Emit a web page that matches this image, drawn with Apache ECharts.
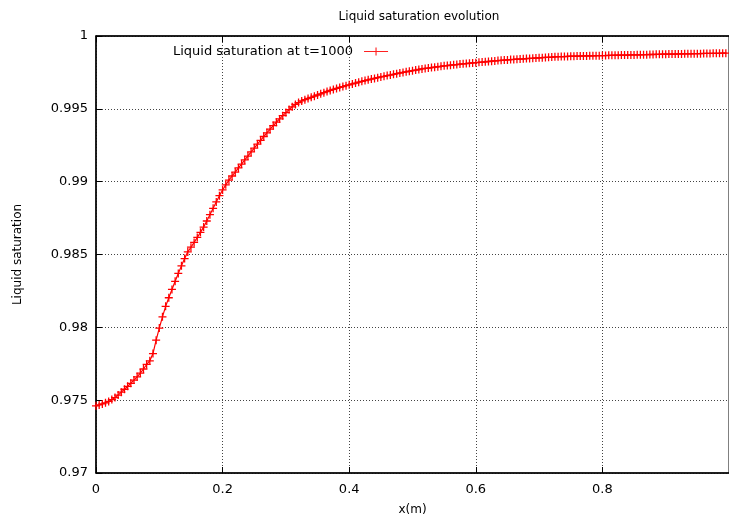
<!DOCTYPE html>
<html>
<head>
<meta charset="utf-8">
<script src="https://cdn.jsdelivr.net/npm/echarts@6/dist/echarts.min.js"></script>
<style>html,body{margin:0;padding:0;background:#fff}#c{width:729px;height:521px}</style>
</head>
<body>
<div id="c"></div>
<script>
var titleText = 'Liquid saturation evolution';
var seriesName = 'Liquid saturation at t=1000';
var xName = 'x(m)';
var yName = 'Liquid saturation';
var xStart = 0;
var xStep = 0.005;
var saturation = [
0.97461,0.97467,0.97474,0.97482,0.97491,0.97504,0.97518,0.97535,0.97555,0.97575,
0.97595,0.97616,0.97638,0.97660,0.97686,0.97714,0.97745,0.97770,0.97820,0.97912,
0.97995,0.98072,0.98144,0.98203,0.98260,0.98316,0.98370,0.98422,0.98472,0.98518,
0.98550,0.98583,0.98617,0.98652,0.98688,0.98730,0.98773,0.98817,0.98861,0.98904,
0.98943,0.98978,0.99010,0.99039,0.99066,0.99094,0.99121,0.99149,0.99176,0.99204,
0.99231,0.99258,0.99284,0.99310,0.99335,0.99360,0.99385,0.99408,0.99431,0.99453,
0.99474,0.99495,0.99514,0.99530,0.99543,0.99554,0.99563,0.99571,0.99579,0.99587,
0.99595,0.99603,0.99611,0.99619,0.99626,0.99633,0.99640,0.99647,0.99653,0.99659,
0.99665,0.99671,0.99677,0.99683,0.99689,0.99694,0.99699,0.99704,0.99709,0.99714,
0.99719,0.99723,0.99728,0.99732,0.99737,0.99741,0.99746,0.99750,0.99754,0.99758,
0.99762,0.99766,0.99770,0.99774,0.99777,0.99780,0.99783,0.99786,0.99789,0.99792,
0.99795,0.99797,0.99800,0.99802,0.99804,0.99807,0.99809,0.99811,0.99813,0.99815,
0.99817,0.99819,0.99821,0.99823,0.99825,0.99827,0.99829,0.99831,0.99833,0.99835,
0.99836,0.99838,0.99839,0.99841,0.99842,0.99843,0.99845,0.99846,0.99847,0.99849,
0.99850,0.99851,0.99853,0.99854,0.99855,0.99857,0.99858,0.99859,0.99859,0.99860,
0.99861,0.99861,0.99862,0.99862,0.99863,0.99863,0.99864,0.99864,0.99865,0.99865,
0.99866,0.99866,0.99867,0.99867,0.99868,0.99868,0.99869,0.99869,0.99869,0.99870,
0.99870,0.99871,0.99871,0.99872,0.99872,0.99873,0.99873,0.99874,0.99874,0.99875,
0.99875,0.99876,0.99876,0.99876,0.99877,0.99877,0.99878,0.99878,0.99878,0.99879,
0.99879,0.99879,0.99880,0.99880,0.99880,0.99881,0.99881,0.99881,0.99882,0.99882
];

var points = saturation.map(function (v, i) {
  return [+(xStart + i * xStep).toFixed(3), v];
});

var font = 'DejaVu Sans, Verdana, sans-serif';
var plus = 'path://M0,4.2H10V5.8H0Z M4.2,0H5.8V10H4.2Z';
var legendIcon = 'path://M0,4.4H30V5.6H0Z M14.3,0H15.7V10H14.3Z';
var gridLine = { show: true, lineStyle: { color: '#444', width: 1, type: [1, 2] } };
var axisLine = { show: true, lineStyle: { color: '#000', width: 1.5 } };

var chart = echarts.init(document.getElementById('c'), null, { renderer: 'canvas' });
chart.setOption({
  animation: false,
  backgroundColor: '#fff',
  title: {
    text: titleText,
    left: 414, top: 6, textAlign: 'center',
    textStyle: { fontFamily: font, fontSize: 12, fontWeight: 'normal', color: '#000' }
  },
  legend: {
    show: true,
    left: 168, top: 40,
    align: 'right',
    itemWidth: 30, itemHeight: 8, itemGap: 5,
    itemStyle: { color: '#ff2020', borderWidth: 0 },
    lineStyle: { color: '#ff2020', width: 1 },
    textStyle: { fontFamily: font, fontSize: 13, color: '#000', padding: [0, 3, 0, 0] },
    data: [{ name: seriesName, icon: legendIcon }]
  },
  grid: { left: 96, top: 36, width: 637, height: 438, show: true, borderColor: '#000', borderWidth: 1 },
  xAxis: [{
    type: 'value', min: 0, max: 1, interval: 0.2,
    name: xName, nameLocation: 'middle', nameGap: 31,
    nameTextStyle: { fontFamily: font, fontSize: 12, color: '#000' },
    axisLine: axisLine,
    axisTick: { show: true, inside: true, length: 6, lineStyle: { color: '#000' } },
    axisLabel: { color: '#000', fontFamily: font, fontSize: 13, margin: 10, showMaxLabel: false },
    splitLine: gridLine
  }, {
    type: 'value', min: 0, max: 1, interval: 0.2, position: 'top',
    axisLine: axisLine,
    axisTick: { show: true, inside: true, length: 6, lineStyle: { color: '#000' } },
    axisLabel: { show: false },
    splitLine: { show: false }
  }],
  yAxis: {
    type: 'value', min: 0.97, max: 1, interval: 0.005,
    name: yName, nameLocation: 'middle', nameGap: 72,
    nameTextStyle: { fontFamily: font, fontSize: 12, color: '#000' },
    axisLine: axisLine,
    axisTick: { show: true, inside: true, length: 6, lineStyle: { color: '#000' } },
    axisLabel: { color: '#000', fontFamily: font, fontSize: 13, margin: 8 },
    splitLine: gridLine
  },
  series: [{
    name: seriesName,
    type: 'line',
    xAxisIndex: 0,
    data: points,
    symbol: plus,
    symbolSize: 8,
    showAllSymbol: true,
    lineStyle: { color: '#ff0000', width: 1.2 },
    itemStyle: { color: '#ff0000', borderWidth: 0 },
    emphasis: { disabled: true }
  }]
});
</script>
</body>
</html>
